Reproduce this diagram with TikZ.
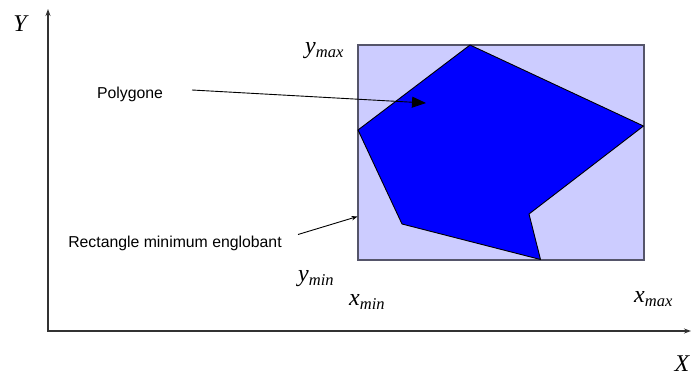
\documentclass[tikz,border=0pt]{standalone}
\usepackage{fontspec}
\setmainfont{Liberation Serif}
\newfontfamily\arialfont{Liberation Sans}
\usetikzlibrary{arrows.meta}
\definecolor{rectfill}{HTML}{CCCCFF}
\definecolor{rectline}{HTML}{55556A}
\definecolor{polyfill}{HTML}{0000FF}
\definecolor{axisline}{HTML}{333333}
\tikzset{
  axis/.style={draw=axisline, line width=1.4pt, -{Stealth[length=7pt,width=5pt]}},
  sanslabel/.style={font=\arialfont\fontsize{15.8}{18}\selectfont, inner sep=0pt},
  axlabel/.style={font=\fontsize{24}{28}\selectfont\itshape, inner sep=0pt},
  bound/.style={font=\fontsize{24}{28}\selectfont\itshape, inner sep=0pt, anchor=base west},
  bigarrow/.style={draw=black, line width=0.9pt, -{Triangle[length=14pt,width=11pt]}},
  smallarrow/.style={draw=black, line width=0.9pt, -{Stealth[length=6pt,width=4.5pt]}}
}
\newcommand{\bnd}[2]{#1{\fontsize{16.5}{18}\selectfont\raisebox{-4pt}{#2}}}
\begin{document}
\begin{tikzpicture}[x=1pt,y=-1pt]
\useasboundingbox (0,0) rectangle (692,375);
% axes
\coordinate (O) at (48,331);
\coordinate (Ytop) at (48,9);
\coordinate (Xend) at (691,331);
\draw[axis] (O) -- (Ytop);
\draw[axis] (47,331) -- (Xend);
\node[axlabel] (Y) at (20,24) {Y};
\node[axlabel] (X) at (682,364) {X};
% bounding rectangle
\draw[fill=rectfill, draw=rectline, line width=1.4pt] (358,45) rectangle (644,260);
% polygon
\coordinate (p1) at (358,130);
\coordinate (p2) at (470,45);
\coordinate (p3) at (643.5,126);
\coordinate (p4) at (529,214);
\coordinate (p5) at (540.5,259.5);
\coordinate (p6) at (402,224);
\draw[fill=polyfill, draw=black, line width=0.9pt, line join=round] (p1) -- (p2) -- (p3) -- (p4) -- (p5) -- (p6) -- cycle;
% bound labels
\node[bound] (ymax) at (305,53) {\bnd{y}{max}};
\node[bound] (ymin) at (298,281) {\bnd{y}{min}};
\node[bound] (xmin) at (349,305) {\bnd{x}{min}};
\node[bound] (xmax) at (634,302) {\bnd{x}{max}};
% annotations
\node[sanslabel] (poly) at (130,94) {Polygone};
\coordinate (polytip) at (426,103);
\draw[bigarrow] (192,90) -- (polytip);
\node[sanslabel] (rect) at (175,243) {Rectangle minimum englobant};
\coordinate (recttip) at (357.5,216.5);
\draw[smallarrow] (298,234.5) -- (recttip);
\end{tikzpicture}
\end{document}
